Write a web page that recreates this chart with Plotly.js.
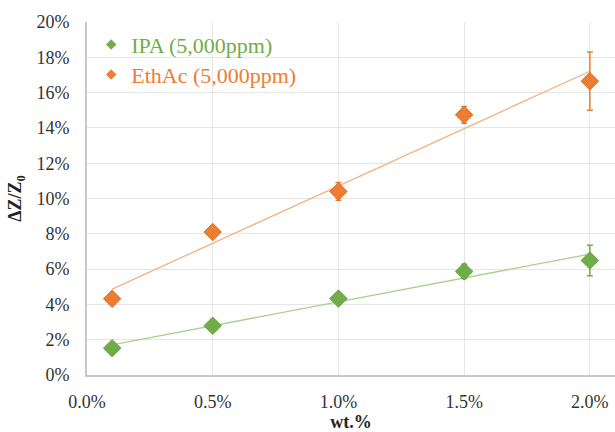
<!DOCTYPE html>
<html>
<head>
<meta charset="utf-8">
<script src="https://cdn.plot.ly/plotly-3.0.1.min.js"></script>
<style>html,body{margin:0;padding:0;background:#fff;}#chart{width:615px;height:432px;}</style>
</head>
<body>
<div id="chart"></div>
<script>
// wt.% concentrations
const wt = [0.1, 0.5, 1.0, 1.5, 2.0];
// ΔZ/Z0 in percent
const ipaValues = [1.52, 2.79, 4.33, 5.87, 6.49];
const ipaErrors = [0.2, 0.2, 0.25, 0.4, 0.86];
const ethValues = [4.32, 8.10, 10.40, 14.74, 16.65];
const ethErrors = [0.25, 0.3, 0.5, 0.47, 1.65];
const seriesNames = ['IPA (5,000ppm)', 'EthAc (5,000ppm)'];
const xTicks = [0, 0.5, 1.0, 1.5, 2.0];
const yTicks = [0, 2, 4, 6, 8, 10, 12, 14, 16, 18, 20];

const GREEN = '#70ad47', ORANGE = '#ed7d31';
const GREEN_LINE = '#a9d18e', ORANGE_LINE = '#f4b183';
const SERIF = 'Liberation Serif, Times New Roman, serif';

function linFit(x, y) {
  const n = x.length;
  const mx = x.reduce((a, b) => a + b, 0) / n;
  const my = y.reduce((a, b) => a + b, 0) / n;
  let sxy = 0, sxx = 0;
  for (let i = 0; i < n; i++) { sxy += (x[i] - mx) * (y[i] - my); sxx += (x[i] - mx) ** 2; }
  const b = sxy / sxx, a = my - b * mx;
  const xs = [x[0], x[n - 1]];
  return { x: xs, y: xs.map(v => a + b * v) };
}
const ipaFit = linFit(wt, ipaValues);
const ethFit = linFit(wt, ethValues);

const traces = [
  { x: ipaFit.x, y: ipaFit.y, mode: 'lines', line: { color: GREEN_LINE, width: 1.3 }, showlegend: false, hoverinfo: 'skip' },
  { x: ethFit.x, y: ethFit.y, mode: 'lines', line: { color: ORANGE_LINE, width: 1.3 }, showlegend: false, hoverinfo: 'skip' },
  { x: wt, y: ipaValues, mode: 'markers', showlegend: false,
    marker: { symbol: 'diamond', size: 13.5, color: GREEN, line: { color: '#5f9a3a', width: 0.8 } },
    error_y: { type: 'data', array: ipaErrors, visible: true, color: GREEN, thickness: 1.5, width: 3 } },
  { x: wt, y: ethValues, mode: 'markers', showlegend: false,
    marker: { symbol: 'diamond', size: 13.5, color: ORANGE, line: { color: '#c8641f', width: 0.8 } },
    error_y: { type: 'data', array: ethErrors, visible: true, color: ORANGE, thickness: 1.5, width: 3 } },
  { x: [null], y: [null], mode: 'markers', name: seriesNames[0], legend: 'legend',
    marker: { symbol: 'diamond', size: 8, color: GREEN } },
  { x: [null], y: [null], mode: 'markers', name: seriesNames[1], legend: 'legend2',
    marker: { symbol: 'diamond', size: 8, color: ORANGE } }
];

const legendBase = { xanchor: 'left', yanchor: 'top', bgcolor: 'rgba(0,0,0,0)', itemwidth: 30 };

const layout = {
  width: 615, height: 432,
  margin: { l: 87, r: 0, t: 22, b: 57 },
  paper_bgcolor: '#fff', plot_bgcolor: '#fff',
  font: { family: SERIF, color: '#333', size: 18 },
  showlegend: true,
  legend: Object.assign({}, legendBase, { x: 0.008, y: 0.995, font: { family: SERIF, size: 22, color: GREEN } }),
  legend2: Object.assign({}, legendBase, { x: 0.008, y: 0.91, font: { family: SERIF, size: 22, color: ORANGE } }),
  xaxis: {
    range: [0, 2.1], tickvals: xTicks, ticktext: xTicks.map(v => v.toFixed(1) + '%'),
    showgrid: true, gridcolor: '#e2e8e8', gridwidth: 1,
    showline: true, linecolor: '#c8c8c8', linewidth: 2,
    zeroline: false, ticks: '', ticklabelstandoff: 9,
    tickfont: { family: SERIF, size: 18, color: '#333' },
    title: { text: '<b>wt.%</b>', font: { family: SERIF, size: 18, color: '#222' }, standoff: 8 }
  },
  yaxis: {
    range: [0, 20], tickvals: yTicks, ticktext: yTicks.map(v => v + '%'),
    showgrid: true, gridcolor: '#e6e6e6', gridwidth: 1,
    showline: true, linecolor: '#c8c8c8', linewidth: 2,
    zeroline: false, ticks: '', ticklabelstandoff: 12,
    tickfont: { family: SERIF, size: 18, color: '#333' },
    title: { text: '<b>ΔZ/Z<sub>0</sub></b>', font: { family: SERIF, size: 18, color: '#222' }, standoff: 10 }
  }
};

Plotly.newPlot('chart', traces, layout, { displayModeBar: false, staticPlot: true });
</script>
</body>
</html>
